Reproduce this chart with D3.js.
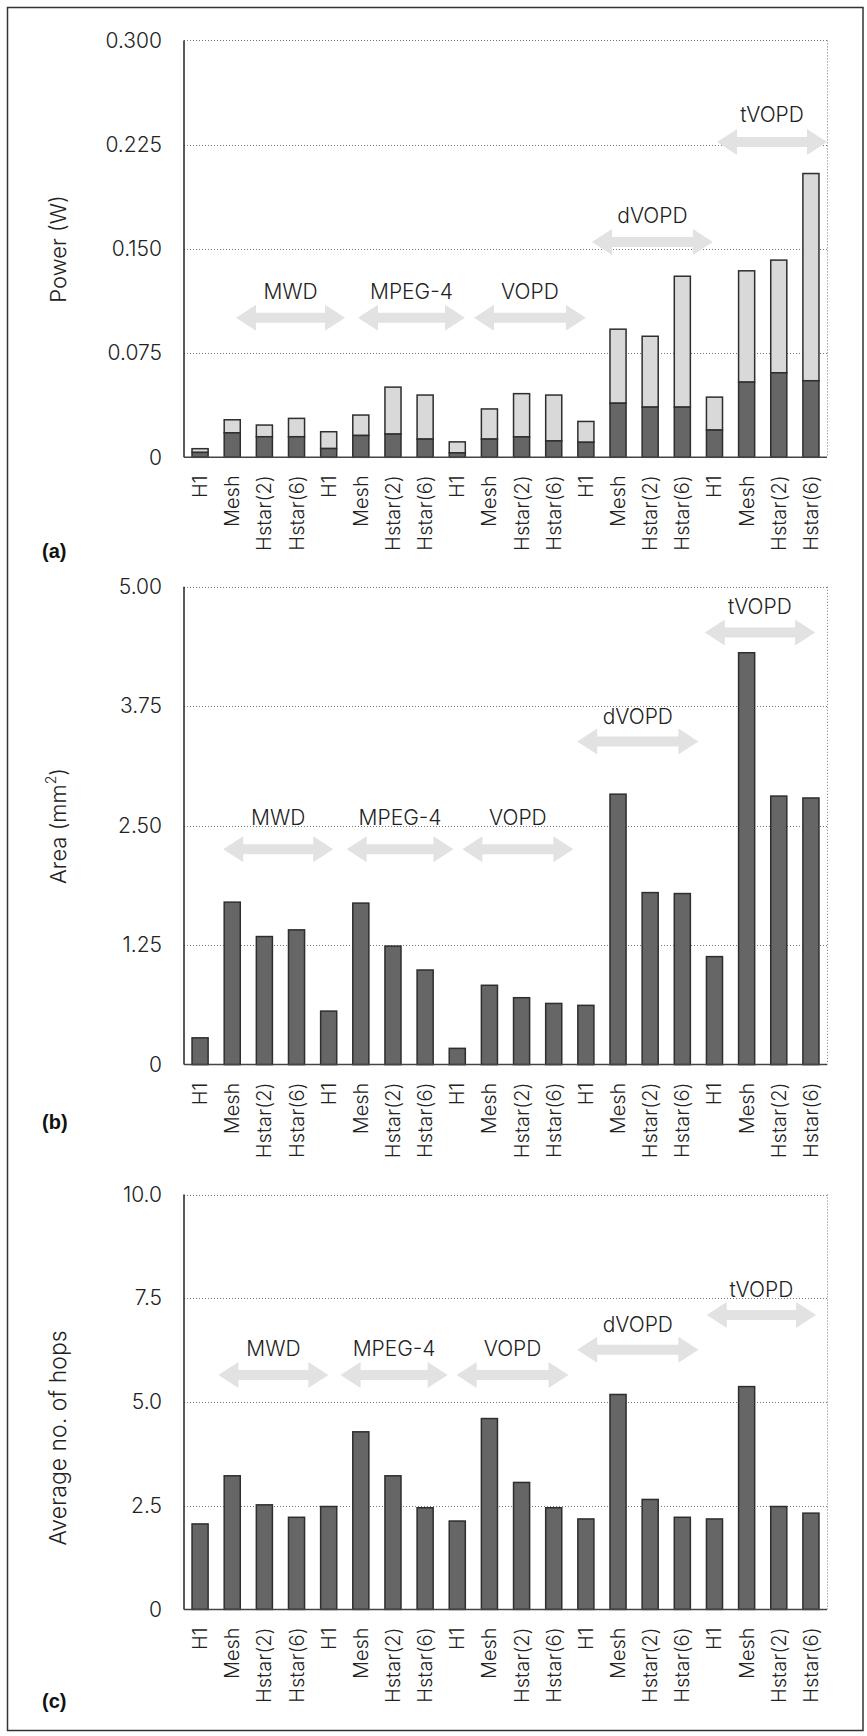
<!DOCTYPE html>
<html>
<head>
<meta charset="utf-8">
<script src="https://cdn.jsdelivr.net/npm/d3@7"></script>
<style>
  html, body { margin: 0; padding: 0; background: #fff; }
  svg { display: block; }
  text { font-family: Inter, "Liberation Sans", Arial, sans-serif; font-weight: 300; fill: #222; }
  text.letter { font-family: "Liberation Sans", Arial, sans-serif; font-weight: 700; fill: #111; }
</style>
</head>
<body>
<svg id="chart" width="867" height="1736"></svg>
<script>
// ---- data ----
const categories = [
  "H1", "Mesh", "Hstar(2)", "Hstar(6)",
  "H1", "Mesh", "Hstar(2)", "Hstar(6)",
  "H1", "Mesh", "Hstar(2)", "Hstar(6)",
  "H1", "Mesh", "Hstar(2)", "Hstar(6)",
  "H1", "Mesh", "Hstar(2)", "Hstar(6)"
];
const benchmarks = ["MWD", "MPEG-4", "VOPD", "dVOPD", "tVOPD"];

// power (W): lower (dark) component and total stacked height
const powerLower = [0.0035, 0.0176, 0.0148, 0.0148, 0.0063, 0.0157, 0.0167, 0.0131,
                    0.0032, 0.0131, 0.0147, 0.0118, 0.0108, 0.0389, 0.0361, 0.0361,
                    0.0196, 0.0541, 0.0608, 0.0551];
const powerTotal = [0.0062, 0.0270, 0.0232, 0.0280, 0.0184, 0.0304, 0.0505, 0.0448,
                    0.0111, 0.0348, 0.0458, 0.0448, 0.0258, 0.0922, 0.0871, 0.1303,
                    0.0433, 0.1342, 0.1419, 0.2042];
// area (mm^2)
const area = [0.28, 1.70, 1.34, 1.41, 0.56, 1.69, 1.24, 0.99,
              0.17, 0.83, 0.70, 0.64, 0.62, 2.83, 1.80, 1.79,
              1.13, 4.31, 2.81, 2.79];
// average number of hops
const hops = [2.06, 3.22, 2.52, 2.22, 2.48, 4.28, 3.22, 2.45,
              2.13, 4.60, 3.06, 2.45, 2.18, 5.18, 2.65, 2.22,
              2.18, 5.37, 2.48, 2.32];

const powerTicks = [0, 0.075, 0.150, 0.225, 0.300];
const powerTickLabels = ["0", "0.075", "0.150", "0.225", "0.300"];
const areaTicks = [0, 1.25, 2.50, 3.75, 5.00];
const areaTickLabels = ["0", "1.25", "2.50", "3.75", "5.00"];
const hopTicks = [0, 2.5, 5.0, 7.5, 10.0];
const hopTickLabels = ["0", "2.5", "5.0", "7.5", "10.0"];

// benchmark arrows: span in category-index units, arrow value, label value
const powerArrows = {
  from: [1.62, 5.41, 9.02, 12.69, 16.58],
  to:   [5.01, 8.74, 12.5, 16.45, 20.0],
  at:   [0.1004, 0.1004, 0.1004, 0.155, 0.2269],
  label:[0.1192, 0.1192, 0.1192, 0.1738, 0.2467]
};
const areaArrows = {
  from: [1.22, 5.06, 8.66, 12.23, 16.2],
  to:   [4.64, 8.38, 12.11, 16.0, 19.63],
  at:   [2.253, 2.253, 2.253, 3.382, 4.522],
  label:[2.59, 2.59, 2.59, 3.647, 4.795]
};
const hopArrows = {
  from: [1.07, 4.87, 8.48, 12.23, 16.26],
  to:   [4.49, 8.2, 11.96, 16.0, 19.66],
  at:   [5.648, 5.648, 5.648, 6.258, 7.093],
  label:[6.284, 6.284, 6.30, 6.867, 7.702]
};

// ---- layout ----
const svg = d3.select("#chart");
const plotLeft = 184, plotRight = 827;
const darkFill = "#666666", lightFill = "#d9d9d9", barStroke = "#2e2e2e";

svg.append("rect")
  .attr("x", 7.5).attr("y", 7.5).attr("width", 855.5).attr("height", 1723)
  .attr("fill", "none").attr("stroke", "#333").attr("stroke-width", 1.5);

const x = d3.scaleBand()
  .domain(d3.range(categories.length))
  .range([plotLeft, plotRight])
  .paddingInner(0.5).paddingOuter(0.25);

function arrowPath(x0, x1, yc) {
  const sh = 5, hh = 13, hl = 20;
  return `M${x0},${yc} L${x0 + hl},${yc - hh} L${x0 + hl},${yc - sh} L${x1 - hl},${yc - sh}` +
         ` L${x1 - hl},${yc - hh} L${x1},${yc} L${x1 - hl},${yc + hh} L${x1 - hl},${yc + sh}` +
         ` L${x0 + hl},${yc + sh} L${x0 + hl},${yc + hh} Z`;
}

function panel(opts) {
  const g = svg.append("g");
  const y = d3.scaleLinear().domain([0, opts.max]).range([opts.bottom, opts.top]);

  // dotted grid lines and right frame
  g.selectAll(".grid").data(opts.ticks.filter(t => t > 0)).join("line")
    .attr("x1", plotLeft).attr("x2", plotRight)
    .attr("y1", d => Math.round(y(d)) + 0.5).attr("y2", d => Math.round(y(d)) + 0.5)
    .attr("stroke", "#777").attr("stroke-width", 1).attr("stroke-dasharray", "1,2");
  g.append("line")
    .attr("x1", plotRight + 0.5).attr("x2", plotRight + 0.5)
    .attr("y1", opts.top).attr("y2", opts.bottom)
    .attr("stroke", "#777").attr("stroke-width", 1).attr("stroke-dasharray", "1,2");

  // benchmark arrows and names
  const step = x.step();
  const ux = u => plotLeft + u * step;
  const ar = opts.arrows;
  g.selectAll(".arrow").data(benchmarks).join("path")
    .attr("d", (d, i) => arrowPath(ux(ar.from[i]), ux(ar.to[i]), y(ar.at[i])))
    .attr("fill", "#e2e2e2");
  g.selectAll(".bench").data(benchmarks).join("text")
    .attr("x", (d, i) => (ux(ar.from[i]) + ux(ar.to[i])) / 2)
    .attr("y", (d, i) => y(ar.label[i]))
    .attr("text-anchor", "middle").attr("dominant-baseline", "central")
    .attr("font-size", 21).text(d => d);

  // bars
  opts.drawBars(g, y);

  // y axis
  const yAxis = d3.axisLeft(y).tickValues(opts.ticks)
    .tickFormat((d, i) => opts.tickLabels[i]).tickSize(0).tickPadding(22);
  const ya = g.append("g").attr("transform", `translate(${plotLeft},0)`).call(yAxis);
  ya.select(".domain").remove();
  ya.selectAll("text").attr("font-size", 21).attr("font-family", null).style("fill", "#222");

  g.append("line")
    .attr("x1", plotLeft).attr("x2", plotLeft)
    .attr("y1", opts.top).attr("y2", opts.bottom)
    .attr("stroke", "#222").attr("stroke-width", 1.5);
  g.append("line")
    .attr("x1", plotLeft).attr("x2", plotRight)
    .attr("y1", opts.bottom).attr("y2", opts.bottom)
    .attr("stroke", "#444").attr("stroke-width", 1.5);

  // x axis labels
  const xAxis = d3.axisBottom(x).tickFormat(i => categories[i]).tickSize(0);
  const xa = g.append("g").attr("transform", `translate(0,${opts.bottom})`).call(xAxis);
  xa.select(".domain").remove();
  xa.selectAll("text")
    .attr("font-size", 20).attr("font-family", null).style("fill", "#222")
    .attr("transform", "rotate(-90)")
    .attr("text-anchor", "end")
    .attr("x", -18).attr("y", 0).attr("dy", "0.35em");

  // axis title
  g.append("text")
    .attr("transform", `translate(58,${opts.titleY}) rotate(-90)`)
    .attr("text-anchor", "middle").attr("dominant-baseline", "central")
    .attr("font-size", opts.titleSize)
    .html(opts.title);

  // panel letter
  g.append("text").attr("class", "letter")
    .attr("x", 42).attr("y", opts.letterY)
    .attr("font-size", 20)
    .text(opts.letter);
}

function simpleBars(values) {
  return (g, y) => {
    g.selectAll(".bar").data(values).join("rect")
      .attr("x", (d, i) => x(i)).attr("width", x.bandwidth())
      .attr("y", d => y(d)).attr("height", d => y(0) - y(d))
      .attr("fill", darkFill).attr("stroke", barStroke).attr("stroke-width", 1.5);
  };
}

panel({
  top: 40.4, bottom: 457.3, max: 0.3,
  ticks: powerTicks, tickLabels: powerTickLabels, arrows: powerArrows,
  title: "Power (W)", titleSize: 22, titleY: 249, letter: "(a)", letterY: 558,
  drawBars: (g, y) => {
    g.selectAll(".upper").data(powerTotal).join("rect")
      .attr("x", (d, i) => x(i)).attr("width", x.bandwidth())
      .attr("y", d => y(d)).attr("height", (d, i) => y(powerLower[i]) - y(d))
      .attr("fill", lightFill).attr("stroke", barStroke).attr("stroke-width", 1.5);
    g.selectAll(".lower").data(powerLower).join("rect")
      .attr("x", (d, i) => x(i)).attr("width", x.bandwidth())
      .attr("y", d => y(d)).attr("height", d => y(0) - y(d))
      .attr("fill", darkFill).attr("stroke", barStroke).attr("stroke-width", 1.5);
  }
});

panel({
  top: 586.8, bottom: 1064.6, max: 5,
  ticks: areaTicks, tickLabels: areaTickLabels, arrows: areaArrows,
  title: "Area (mm<tspan dy='-8' font-size='14'>2</tspan><tspan dy='8'>)</tspan>",
  titleSize: 22, titleY: 826, letter: "(b)", letterY: 1129,
  drawBars: simpleBars(area)
});

panel({
  top: 1194.5, bottom: 1609.4, max: 10,
  ticks: hopTicks, tickLabels: hopTickLabels, arrows: hopArrows,
  title: "Average no. of hops", titleSize: 23, titleY: 1438, letter: "(c)", letterY: 1708,
  drawBars: simpleBars(hops)
});
</script>
</body>
</html>
